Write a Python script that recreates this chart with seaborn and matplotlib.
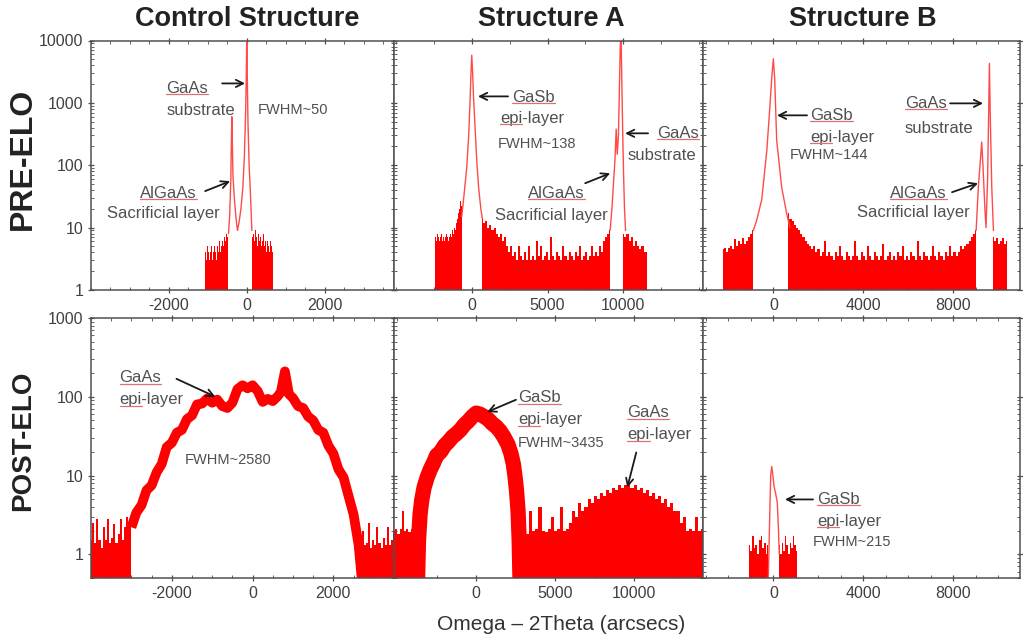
import numpy as np
import matplotlib
matplotlib.use('Agg')
import matplotlib.pyplot as plt
import seaborn as sns
from matplotlib.ticker import FixedLocator, MultipleLocator, LogLocator, FuncFormatter, NullFormatter
from matplotlib.lines import Line2D
from matplotlib.transforms import IdentityTransform

sns.set_style('ticks')
plt.rcParams['font.family'] = ['Liberation Sans', 'DejaVu Sans']

# ---------------- labels ----------------
col_titles = ['Control Structure', 'Structure A', 'Structure B']
row_titles = ['PRE-ELO', 'POST-ELO']
x_title = 'Omega \u2013 2Theta (arcsecs)'
x_tick_values = [[-2000, 0, 2000], [0, 5000, 10000], [0, 4000, 8000]]

# ---------------- Control structure, pre-ELO ----------------
c_pre_noise_l_span = [-1067, -470]
c_pre_noise_l = [4, 3, 5, 4, 3, 4, 5, 3, 4, 5, 4, 3, 5, 4, 6, 4, 5, 6, 5, 7, 6, 8, 7, 8]
c_pre_peak_x = [-470, -440, -410, -395, -384, -372, -355, -320, -280, -240, -200, -150,
                -100, -60, -30, -12, 0, 12, 30, 60, 90, 130]
c_pre_peak_y = [8, 15, 60, 250, 600, 250, 70, 30, 15, 9, 12, 20,
                45, 150, 700, 3000, 12000, 3000, 500, 100, 40, 9]
c_pre_noise_r_span = [130, 682]
c_pre_noise_r = [9, 7, 8, 6, 9, 7, 5, 8, 6, 7, 5, 6, 8, 5, 6, 4, 6, 5, 4, 6, 5, 4, 5]

# ---------------- Structure A, pre-ELO ----------------
a_pre_noise_l_span = [-2420, -660]
a_pre_noise_l = [7, 6, 8, 7, 6, 7, 8, 6, 7, 6, 7, 8, 7, 6, 7, 8, 7, 9, 8, 10, 9, 12, 14, 17, 20, 27, 22]
a_pre_peak1_x = [-660, -500, -330, -200, -110, -50, 0, 60, 120, 220, 330, 450, 600, 700]
a_pre_peak1_y = [15, 35, 93, 300, 1100, 3000, 5800, 3000, 1200, 400, 120, 45, 20, 14]
a_pre_noise_m_span = [700, 9130]
a_pre_noise_m = [14, 12, 13, 10, 11, 9, 10, 8, 7, 8, 6, 7, 5,
                 4, 5, 3.5, 4, 3, 5, 3.5, 3, 4, 3, 5, 3, 3.5, 3, 6, 3.5, 5, 3, 3.5, 4, 3, 7, 3.5,
                 3, 4, 3.5, 3, 5, 3.5, 3, 4, 3.5, 3, 4, 3.5, 5, 3, 3.5, 4, 3, 3.5, 5, 3.5, 4, 3.5,
                 5, 4, 6, 7, 8, 9]
a_pre_peak2_x = [9130, 9250, 9350, 9450, 9530, 9600, 9680, 9750, 9800, 9850, 9900, 9960, 10020, 10080, 10150]
a_pre_peak2_y = [9, 20, 50, 120, 380, 150, 300, 2000, 8000, 15000, 2500, 350, 70, 20, 9]
a_pre_noise_r_span = [10000, 11550]
a_pre_noise_r = [8, 7, 8, 6, 7, 5, 6, 5, 4.5, 5, 4, 4]

# ---------------- Structure B, pre-ELO ----------------
b_pre_noise_l_span = [-2250, -890]
b_pre_noise_l = [4.5, 4.7, 4, 4.7, 5, 4.5, 6.5, 5, 6, 5.5, 6.8, 5.5, 6, 7, 8, 9]
b_pre_peak1_x = [-890, -740, -515, -290, -150, -60, 0, 60, 150, 370, 590, 740]
b_pre_peak1_y = [9, 13, 28, 170, 900, 2800, 5100, 2500, 250, 45, 17, 10]
b_pre_noise_m_span = [667, 9010]
b_pre_noise_m = [17, 14, 13, 11, 10, 9, 8, 7, 6, 5.5, 5, 4.5, 5, 4, 4.5, 3.5, 4, 6, 3.5, 4,
                 3.5, 3, 4, 3.5, 5, 3.5, 3, 4, 3.5, 3, 3.5, 6, 3.5, 3, 4, 3.5, 3, 5, 3.5, 3,
                 4, 3.5, 3, 3.5, 5.5, 3, 3.5, 4, 3, 3.5, 3, 4, 3.5, 5, 3, 3.5, 3, 4, 3.5, 3,
                 6, 3.5, 3, 4, 3.5, 3, 3.5, 5, 3.5, 3, 4, 3.5, 3, 4, 3.5, 5, 3.5, 4, 3.5, 4,
                 5, 4.5, 5, 5.5, 6, 7, 8, 9]
b_pre_peak2_x = [9010, 9110, 9200, 9260, 9320, 9400, 9450, 9520, 9570, 9600, 9640, 9705, 9780]
b_pre_peak2_y = [9, 45, 120, 235, 90, 20, 10, 60, 800, 4300, 600, 45, 9]
b_pre_noise_r_span = [9780, 10370]
b_pre_noise_r = [7, 6, 6.8, 5.5, 6, 6.8, 5.5, 6]

# ---------------- Control structure, post-ELO ----------------
c_post_noise_l_span = [-4000, -3000]
c_post_noise_l = [1.5, 2.5, 1.4, 2.8, 1.5, 1.2, 2.2, 1.5, 2.8, 1.4, 1.6, 2.4, 1.4, 1.8, 2.8,
                  1.5, 2.2, 3, 2.4, 2.8]
c_post_band_x = [-3000, -2875, -2750, -2625, -2500, -2375, -2250, -2125, -2000, -1875, -1750,
                 -1625, -1500, -1375, -1250, -1125, -1000, -875, -750, -625, -500, -375, -250,
                 -125, 0, 125, 250, 375, 500, 625, 700, 800, 900, 1000, 1125, 1250, 1375, 1500,
                 1625, 1750, 1875, 2000, 2125, 2250, 2375, 2500, 2625, 2700]
c_post_band_y = [2.2, 3.4, 4.2, 6.5, 7.5, 11, 14, 23, 26, 35, 38,
                 52, 58, 80, 82, 95, 84, 92, 76, 72, 84, 125, 140,
                 128, 140, 118, 86, 94, 88, 102, 115, 210, 108, 96, 76, 72, 56, 50,
                 38, 35, 24, 19, 12, 9.5, 5.5, 3.2, 1.3, 0.5]
c_post_noise_r_span = [2630, 3500]
c_post_noise_r = [1.5, 1.2, 2.0, 1.3, 1.4, 2.5, 1.2, 1.5, 1.3, 2.2, 1.4, 1.2, 1.6, 1.3, 2.2,
                  1.3, 1.5, 2.0]

# ---------------- Structure A, post-ELO ----------------
a_post_noise_l_span = [-5200, -3800]
a_post_noise_l = [2, 2.1, 1.8, 2.1, 3.5, 2, 2.1, 1.9, 2.1, 2, 4]
a_post_band_x = [-3720, -3650, -3550, -3450, -3300, -3100, -2900, -2700, -2500, -2250, -2000,
                 -1750, -1500, -1250, -1000, -750, -500, -250, 0, 250, 500, 750, 1000, 1250,
                 1500, 1750, 2000, 2200, 2350, 2450, 2550, 2650, 2720, 2780]
a_post_band_y = [0.4, 1.5, 3.2, 4.8, 7, 9.5, 12, 14.5, 18, 20, 24,
                 27, 31, 34, 38, 44, 49, 56, 62, 60, 56, 52, 46, 42,
                 37, 31, 25, 19, 14, 10, 6.5, 3.5, 1.5, 0.4]
a_post_noise_r_span = [2875, 14321]
a_post_noise_r = [2, 2.1, 1.8, 3.5, 2, 2.1, 4, 2, 1.9, 2.1, 3, 2, 2.1, 4, 2, 2.1, 2.5, 3.5, 3,
                  4.5, 3.5, 4, 5, 4.5, 5.5, 5, 6, 5.5, 6.5, 6, 7, 6.5, 7.5, 7, 7.5, 8, 7, 7.5,
                  6.5, 7, 6, 6.5, 5.5, 6, 5, 5.5, 4.5, 5, 4, 4.5, 3.5, 3.5, 2.5, 3, 2, 2.1, 2,
                  3, 2, 2.1]

# ---------------- Structure B, post-ELO ----------------
b_post_noise_l_span = [-1066, -222]
b_post_noise_l = [1.3, 1.1, 1.7, 1.2, 1.3, 1.0, 1.5, 1.7, 1.2, 1.4, 1.0, 1.3]
b_post_peak_x = [-222, -160, -117, -71, -20, 31, 100, 178, 230, 266]
b_post_peak_y = [0.5, 3, 10, 13, 10, 7.3, 6, 4.5, 2, 1.0]
b_post_noise_r_span = [266, 1040]
b_post_noise_r = [1.3, 1.0, 1.4, 1.1, 1.7, 1.3, 1.0, 1.4, 1.2, 1.7, 1.3, 1.1]

# ---------------- styling / layout ----------------
RED = '#ff0000'
PEAK = '#ff4a4a'
TXT = '#505050'
W, H = 1023, 637
col_px = [(91, 394), (394, 703), (703, 1020)]
row_px = [(40.5, 290), (318, 578)]
xlims = [[(-4000, 3780), (-5130, 15260), (-3124, 10960)],
         [(-4000, 3500), (-5200, 14350), (-3124, 10960)]]
ylims = [(1, 10000), (0.5, 1000)]
floors = [1, 0.5]
xminor = [500, 2500, 1000]

panels = {
    (0, 0): dict(noise=[(c_pre_noise_l_span, c_pre_noise_l), (c_pre_noise_r_span, c_pre_noise_r)],
                 peaks=[(c_pre_peak_x, c_pre_peak_y)], bands=[]),
    (0, 1): dict(noise=[(a_pre_noise_l_span, a_pre_noise_l), (a_pre_noise_m_span, a_pre_noise_m),
                        (a_pre_noise_r_span, a_pre_noise_r)],
                 peaks=[(a_pre_peak1_x, a_pre_peak1_y), (a_pre_peak2_x, a_pre_peak2_y)], bands=[]),
    (0, 2): dict(noise=[(b_pre_noise_l_span, b_pre_noise_l), (b_pre_noise_m_span, b_pre_noise_m),
                        (b_pre_noise_r_span, b_pre_noise_r)],
                 peaks=[(b_pre_peak1_x, b_pre_peak1_y), (b_pre_peak2_x, b_pre_peak2_y)], bands=[]),
    (1, 0): dict(noise=[(c_post_noise_l_span, c_post_noise_l), (c_post_noise_r_span, c_post_noise_r)],
                 peaks=[], bands=[(c_post_band_x, c_post_band_y, 7)]),
    (1, 1): dict(noise=[(a_post_noise_l_span, a_post_noise_l), (a_post_noise_r_span, a_post_noise_r)],
                 peaks=[], bands=[(a_post_band_x, a_post_band_y, 11)]),
    (1, 2): dict(noise=[(b_post_noise_l_span, b_post_noise_l), (b_post_noise_r_span, b_post_noise_r)],
                 peaks=[(b_post_peak_x, b_post_peak_y)], bands=[]),
}

# annotation texts: (x, y, text, size, underlined part)
texts = {
    (0, 0): [(-2070, 1706, 'GaAs', 12, 'GaAs'), (-2070, 759, 'substrate', 12, None),
             (290, 759, 'FWHM~50', 10.5, None), (-2736, 35.6, 'AlGaAs', 12, 'AlGaAs'),
             (-3582, 17.1, 'Sacrificial layer', 12, None)],
    (0, 1): [(2660, 1225, 'GaSb', 12, 'GaSb'), (1868, 565, 'epi-layer', 12, 'epi'),
             (1736, 217, 'FWHM~138', 10.5, None), (12230, 325, 'GaAs', 12, 'GaAs'),
             (10316, 144.5, 'substrate', 12, None), (3716, 35.6, 'AlGaAs', 12, 'AlGaAs'),
             (1538, 15.8, 'Sacrificial layer', 12, None)],
    (0, 2): [(1631, 631, 'GaSb', 12, 'GaSb'), (1631, 280, 'epi-layer', 12, 'epi'),
             (742, 144.5, 'FWHM~144', 10.5, None), (5853, 982, 'GaAs', 12, 'GaAs'),
             (5853, 391, 'substrate', 12, None), (5186, 35.6, 'AlGaAs', 12, 'AlGaAs'),
             (3719, 17.7, 'Sacrificial layer', 12, None)],
    (1, 0): [(-3293, 174, 'GaAs', 12, 'GaAs'), (-3293, 91.6, 'epi-layer', 12, 'epi'),
             (-1687, 15.9, 'FWHM~2580', 10.5, None)],
    (1, 1): [(2642, 97, 'GaSb', 12, 'GaSb'), (2642, 51.2, 'epi-layer', 12, 'epi'),
             (2642, 26.1, 'FWHM~3435', 10.5, None), (9561, 62.9, 'GaAs', 12, 'GaAs'),
             (9561, 33, 'epi-layer', 12, 'epi')],
    (1, 2): [(1942, 4.97, 'GaSb', 12, 'GaSb'), (1942, 2.62, 'epi-layer', 12, 'epi'),
             (1764, 1.42, 'FWHM~215', 10.5, None)],
}
# arrows: (tail x, tail y, tip x, tip y)
arrows = {
    (0, 0): [(-633, 2050, -44, 2050), (-1069, 38.5, -428, 55.5)],
    (0, 1): [(2396, 1270, 416, 1270), (11636, 325, 10118, 325), (7486, 51.5, 9136, 74.4)],
    (0, 2): [(1498, 631, 164, 631), (7852, 982, 9319, 982), (7941, 37, 9097, 51.5)],
    (1, 0): [(-1885, 169, -921, 100)],
    (1, 1): [(2516, 91.6, 692, 64), (10127, 19.6, 9561, 7.05)],
    (1, 2): [(1764, 4.97, 520, 4.97)],
}

fig = plt.figure(figsize=(W / 100, H / 100), dpi=100)
underline_jobs = []

for r in range(2):
    for c in range(3):
        l, rr = col_px[c]
        t, b = row_px[r]
        ax = fig.add_axes([l / W, 1 - b / H, (rr - l) / W, (b - t) / H])
        ax.set_yscale('log')
        ax.set_xlim(*xlims[r][c])
        ax.set_ylim(*ylims[r])
        spec = panels[(r, c)]
        for span, env in spec['noise']:
            xs = np.linspace(span[0], span[1], len(env))
            ax.fill_between(xs, floors[r], env, step='mid', color=RED, lw=0, zorder=2)
        for px, py in spec['peaks']:
            sns.lineplot(x=px, y=py, ax=ax, color=PEAK, lw=1.0, sort=False,
                         estimator=None, zorder=2.5)
        for bx, by, lw in spec['bands']:
            sns.lineplot(x=bx, y=by, ax=ax, color=RED, lw=lw, sort=False,
                         estimator=None, zorder=2.5, solid_joinstyle='round',
                         solid_capstyle='butt')
        # ticks
        ax.xaxis.set_major_locator(FixedLocator(x_tick_values[c]))
        ax.xaxis.set_minor_locator(MultipleLocator(xminor[c]))
        ax.yaxis.set_major_locator(LogLocator(base=10))
        ax.yaxis.set_minor_locator(LogLocator(base=10, subs=np.arange(2, 10)))
        ax.xaxis.set_major_formatter(FuncFormatter(lambda v, _: f'{int(round(v))}'))
        if c == 0:
            ax.yaxis.set_major_formatter(FuncFormatter(lambda v, _: f'{int(round(v))}' if v >= 1 else ''))
        else:
            ax.yaxis.set_major_formatter(NullFormatter())
        ax.yaxis.set_minor_formatter(NullFormatter())
        ax.tick_params(axis='both', which='major', direction='inout', length=5, width=0.9,
                       colors='#505050', labelcolor='#404040', labelsize=11.5,
                       top=True, right=True, pad=3)
        ax.tick_params(axis='both', which='minor', direction='in', length=2.5, width=0.7,
                       colors='#606060', top=True, right=True)
        for s in ax.spines.values():
            s.set_color('#505050')
            s.set_linewidth(1.1)
            s.set_zorder(3)
        ax.set_xlabel('')
        ax.set_ylabel('')
        # annotations
        for (tx, ty, s, size, ul) in texts[(r, c)]:
            tobj = ax.text(tx, ty, s, fontsize=size, color=TXT, ha='left', va='center', zorder=4)
            if ul:
                underline_jobs.append((ax, tobj, tx, ty, ul, size))
        for (x0, y0, x1, y1) in arrows[(r, c)]:
            ax.annotate('', xy=(x1, y1), xytext=(x0, y0),
                        arrowprops=dict(arrowstyle='->', color='#1a1a1a', lw=1.3,
                                        shrinkA=0, shrinkB=0, mutation_scale=13), zorder=4)

# titles and row labels
col_centers = [247, 551, 863]
for ctr, title in zip(col_centers, col_titles):
    fig.text(ctr / W, 1 - 19 / H, title, ha='center', va='center', fontsize=19.5,
             fontweight='bold', color='#222222')
row_centers = [159, 441]
for ctr, lab, fs in zip(row_centers, row_titles, [23, 20]):
    fig.text(23 / W, 1 - ctr / H, lab, rotation=90, ha='center', va='center', fontsize=fs,
             fontweight='bold', color='#222222')
fig.text(561 / W, 1 - 625 / H, x_title, ha='center', va='center', fontsize=15, color='#333333')

# red spell-check style underlines
fig.canvas.draw()
renderer = fig.canvas.get_renderer()
for ax, tobj, tx, ty, ul, size in underline_jobs:
    bb = tobj.get_window_extent(renderer)
    tmp = ax.text(tx, ty, ul, fontsize=size, ha='left', va='center', alpha=0)
    w = tmp.get_window_extent(renderer).width
    tmp.remove()
    yline = bb.y0 + 1.5
    fig.add_artist(Line2D([bb.x0, bb.x0 + w], [yline, yline], transform=IdentityTransform(),
                          color='#e07070', lw=0.9))

fig.savefig('out.png', dpi=100)
